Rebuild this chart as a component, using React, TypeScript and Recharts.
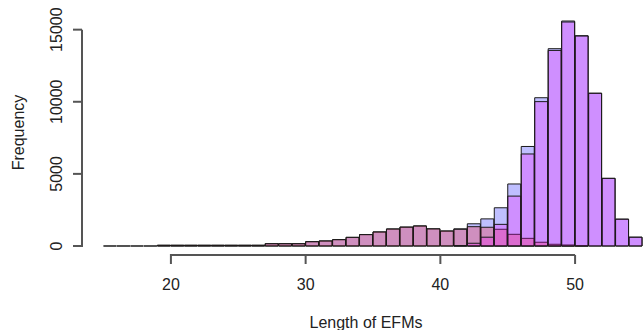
import React from 'react'
import { BarChart, Bar, XAxis, YAxis } from 'recharts'

// left edge of each 1-unit bin (R hist, right-closed bins)
const bins = [
  15, 16, 17, 18, 19, 20, 21, 22, 23, 24, 25, 26, 27, 28, 29, 30, 31, 32, 33, 34,
  35, 36, 37, 38, 39, 40, 41, 42, 43, 44, 45, 46, 47, 48, 49, 50, 51, 52, 53, 54,
]

// all EFMs (blue)
const totalCounts = [
  1, 1, 1, 1, 50, 50, 50, 50, 50, 50, 50, 50, 160, 160, 160, 300, 350, 440, 600, 790,
  975, 1180, 1310, 1390, 1190, 1040, 1190, 1540, 1880, 2650, 4300, 6900, 10280, 13680, 15600, 14580, 10590, 4690, 1860, 610,
]

// first group (red)
const groupA = [
  0, 0, 0, 0, 50, 50, 50, 50, 50, 50, 50, 50, 160, 160, 160, 300, 350, 440, 600, 790,
  975, 1180, 1310, 1390, 1190, 1040, 1160, 1340, 1300, 1160, 810, 530, 260, 120, 70, 20, 0, 0, 0, 0,
]

// second group (magenta)
const groupB = [
  0, 0, 0, 0, 0, 0, 0, 0, 0, 0, 0, 0, 0, 0, 0, 0, 0, 0, 0, 0,
  0, 0, 0, 0, 0, 0, 30, 190, 610, 1500, 3460, 6380, 10010, 13560, 15530, 14560, 10590, 4690, 1860, 610,
]

const xTicks = [20, 30, 40, 50]
const yTicks = [0, 5000, 10000, 15000]
const xDomain = [13.4, 56.6]
const yDomain = [-624, 16224]

const data = bins.map((bin, i) => ({ bin, total: totalCounts[i], a: groupA[i], b: groupB[i] }))

const FONT = '"Liberation Sans", Arial, sans-serif'
const INK = '#222'
const AXIS = '#555'

const W = 664
const H = 330
const TOP = 12
const Y_W = 82
const X_H = 75
const TICK = 9
const plotW = W - Y_W
const plotH = H - TOP - X_H
const pxPerX = plotW / (xDomain[1] - xDomain[0])
const pxPerY = plotH / (yDomain[1] - yDomain[0])

// R-style axes: axis line only spans first..last tick, drawn with the ticks
const XTick = ({ x, y, payload }: any) => {
  const yAxis = y - TICK - 2
  const span = (xTicks[xTicks.length - 1] - xTicks[0]) * pxPerX
  const first = Number(payload.value) === xTicks[0]
  return (
    <g>
      <path
        d={`M${x},${yAxis + TICK}V${yAxis}${first ? `H${x + span}` : ''}`}
        fill="none"
        stroke={AXIS}
        strokeWidth={2}
      />
      <text x={x} y={y + 23.5} textAnchor="middle" fontSize={16} fontFamily={FONT} fill={INK}>
        {payload.value}
      </text>
    </g>
  )
}

const YTick = ({ x, y, payload }: any) => {
  const xAxis = x + TICK + 2
  const span = (yTicks[yTicks.length - 1] - yTicks[0]) * pxPerY
  const first = Number(payload.value) === yTicks[0]
  return (
    <g>
      <path
        d={`M${xAxis - TICK},${y}H${xAxis}${first ? `V${y - span}` : ''}`}
        fill="none"
        stroke={AXIS}
        strokeWidth={2}
      />
      <text
        x={x - 9}
        y={y}
        transform={`rotate(-90, ${x - 9}, ${y})`}
        textAnchor="middle"
        fontSize={16}
        fontFamily={FONT}
        fill={INK}
      >
        {payload.value}
      </text>
    </g>
  )
}

export default function App() {
  return (
    <div style={{ position: 'absolute', left: 0, top: 0, width: 643, height: 330, overflow: 'hidden', background: '#fff' }}>
      <BarChart
        width={W}
        height={H}
        data={data}
        margin={{ top: TOP, right: 0, bottom: 0, left: 0 }}
        barCategoryGap={0}
        barGap={0}
      >
        <XAxis
          xAxisId="disp"
          dataKey="bin"
          type="number"
          domain={xDomain}
          allowDataOverflow
          ticks={xTicks}
          height={X_H}
          axisLine={false}
          tickLine={false}
          tickSize={TICK}
          tickMargin={2}
          tick={XTick}
          label={() => (
            <text x={366} y={327.5} textAnchor="middle" fontSize={16} fontFamily={FONT} fill={INK}>
              Length of EFMs
            </text>
          )}
        />
        <XAxis xAxisId="t" dataKey="bin" hide height={0} padding={{ left: 21.5, right: 21.5 }} />
        <XAxis xAxisId="a" dataKey="bin" hide height={0} padding={{ left: 21.5, right: 21.5 }} />
        <XAxis xAxisId="b" dataKey="bin" hide height={0} padding={{ left: 21.5, right: 21.5 }} />
        <YAxis
          width={Y_W}
          domain={yDomain}
          allowDataOverflow
          ticks={yTicks}
          axisLine={false}
          tickLine={false}
          tickSize={TICK}
          tickMargin={2}
          tick={YTick}
          label={() => (
            <text
              x={23.5}
              y={132.5}
              transform="rotate(-90, 23.5, 132.5)"
              textAnchor="middle"
              fontSize={16}
              fontFamily={FONT}
              fill={INK}
            >
              Frequency
            </text>
          )}
        />
        <Bar xAxisId="t" dataKey="total" fill="rgb(0,0,255)" fillOpacity={0.25} stroke="#1a1a1a" strokeWidth={1} isAnimationActive={false} />
        <Bar xAxisId="a" dataKey="a" fill="rgb(255,0,0)" fillOpacity={0.25} stroke="#1a1a1a" strokeWidth={1} isAnimationActive={false} />
        <Bar xAxisId="b" dataKey="b" fill="rgb(255,0,255)" fillOpacity={0.25} stroke="#1a1a1a" strokeWidth={1} isAnimationActive={false} />
      </BarChart>
    </div>
  )
}
